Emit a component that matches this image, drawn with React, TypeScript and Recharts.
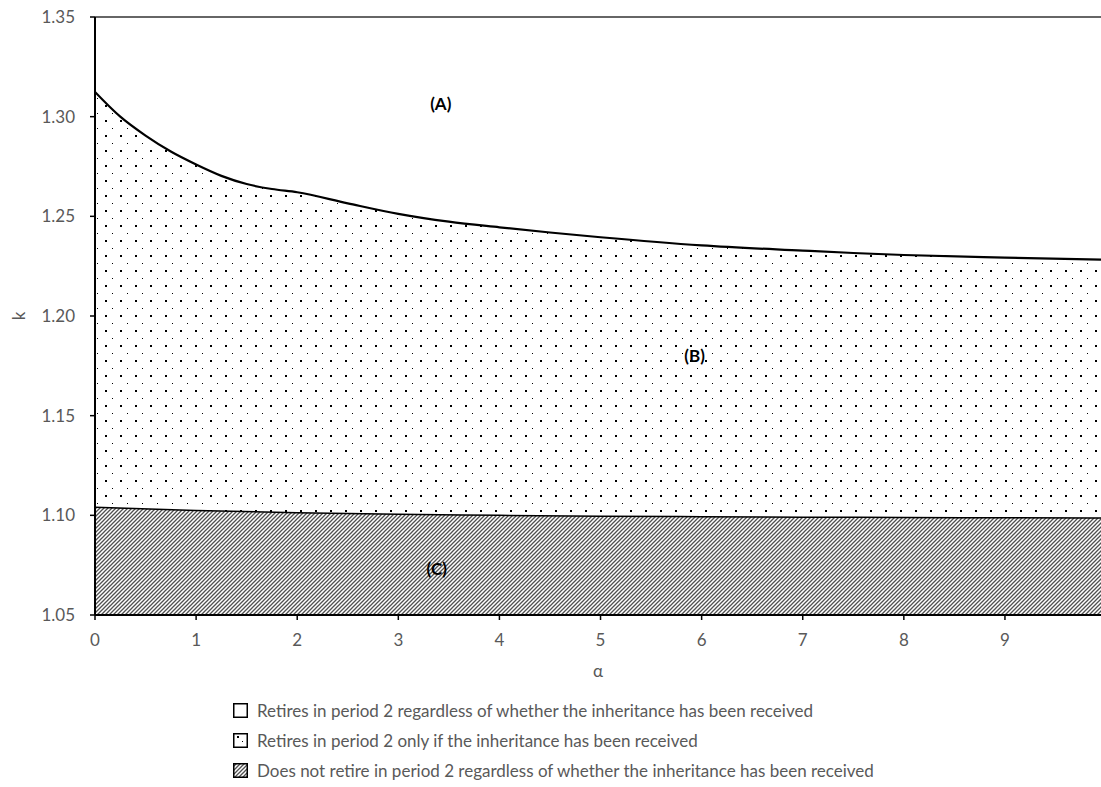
import React from 'react';
import { ComposedChart, Area, Line, XAxis, YAxis, ReferenceLine, ReferenceDot } from 'recharts';

const alphaUpper = [0, 0.25, 0.5, 0.75, 1, 1.25, 1.5, 1.75, 2, 2.5, 3, 3.5, 4, 4.5, 5, 6, 7, 7.5, 8, 9, 9.95];
const kUpper = [1.3124, 1.3, 1.2905, 1.2825, 1.276, 1.2703, 1.2662, 1.2637, 1.2621, 1.2565, 1.2512, 1.2473, 1.2445, 1.2419, 1.2395, 1.2354, 1.2328, 1.2316, 1.2306, 1.2293, 1.2283];
const alphaLower = [0, 1, 2, 3, 4, 5, 6, 7, 8, 9, 9.95];
const kLower = [1.104, 1.1024, 1.1013, 1.1005, 1.1, 1.0996, 1.0993, 1.0991, 1.0989, 1.0988, 1.0987];
const xTicks = [0, 1, 2, 3, 4, 5, 6, 7, 8, 9];
const yTicks = [1.05, 1.1, 1.15, 1.2, 1.25, 1.3, 1.35];
const regionLabels = [
  { a: 3.42, k: 1.3063, text: '(A)' },
  { a: 5.93, k: 1.1798, text: '(B)' },
  { a: 3.38, k: 1.0729, text: '(C)' },
];
const legendItems = [
  'Retires in period 2 regardless of whether the inheritance has been received',
  'Retires in period 2 only if the inheritance has been received',
  'Does not retire in period 2 regardless of whether the inheritance has been received',
];

const upperData = alphaUpper.map((a, i) => ({ a, upper: kUpper[i] }));
const lowerData = alphaLower.map((a, i) => ({ a, lower: kLower[i] }));

const FONT = 'Lato, "Open Sans", sans-serif';
const GRAY = '#595959';

const Defs = () => (
  <defs>
    <pattern id="dots" patternUnits="userSpaceOnUse" width="15" height="15">
      <rect x="0" y="0" width="15" height="15" fill="#fff" />
      <rect x="0" y="0" width="2" height="2" fill="#000" />
      <rect x="7" y="8" width="1" height="1" fill="#000" />
    </pattern>
    <pattern id="hatch" patternUnits="userSpaceOnUse" width="4" height="4">
      <rect x="0" y="0" width="4" height="4" fill="#fff" />
      <path d="M-1,1 L1,-1 M0,4 L4,0 M3,5 L5,3" stroke="#505050" strokeWidth="1.3" />
    </pattern>
  </defs>
);

const LegendIcon = ({ kind }: { kind: number }) => (
  <svg width="15" height="15" style={{ display: 'block' }}>
    <rect
      x="0.75"
      y="0.75"
      width="13.5"
      height="13.5"
      fill={kind === 2 ? 'url(#hatch)' : '#fff'}
      stroke="#000"
      strokeWidth="1.5"
    />
    {kind === 1 && <rect x="4" y="3" width="2" height="2" fill="#000" />}
    {kind === 1 && <rect x="9" y="8" width="1" height="1" fill="#000" />}
  </svg>
);

export default function App() {
  return (
    <div style={{ position: 'absolute', left: 0, top: 0, width: 1101, height: 787, background: '#fff' }}>
      <ComposedChart width={1101} height={787} margin={{ top: 17, right: 0, left: 0, bottom: 0 }}>
        <Defs />
        <XAxis
          dataKey="a"
          type="number"
          domain={[0, 9.95]}
          ticks={xTicks}
          allowDataOverflow
          height={172}
          axisLine={{ stroke: '#000', strokeWidth: 2 }}
          tickLine={{ stroke: '#000', strokeWidth: 1.5 }}
          tickSize={5}
          tickMargin={14}
          tick={{ fill: GRAY, fontSize: 17, fontFamily: FONT }}
          label={{ value: 'α', position: 'insideTop', offset: 50, fill: GRAY, fontSize: 17, fontFamily: FONT }}
        />
        <YAxis
          type="number"
          domain={[1.05, 1.35]}
          ticks={yTicks}
          allowDataOverflow
          width={95}
          axisLine={{ stroke: '#000', strokeWidth: 2 }}
          tickLine={{ stroke: '#000', strokeWidth: 1.5 }}
          tickSize={5}
          tickMargin={15}
          tickFormatter={(v: number) => v.toFixed(2)}
          tick={{ fill: GRAY, fontSize: 17, fontFamily: FONT }}
          label={{
            content: (props: any) => {
              const vb = props.viewBox || {};
              const cy = (vb.y || 0) + (vb.height || 0) / 2;
              return (
                <text
                  x={18}
                  y={cy}
                  transform={`rotate(-90, 18, ${cy})`}
                  textAnchor="middle"
                  dominantBaseline="central"
                  fill={GRAY}
                  fontSize={17}
                  fontFamily={FONT}
                >
                  k
                </text>
              );
            },
          }}
        />
        <Area
          data={upperData}
          dataKey="upper"
          type="monotone"
          baseValue={1.05}
          fill="url(#dots)"
          fillOpacity={1}
          stroke="none"
          isAnimationActive={false}
        />
        <Area
          data={lowerData}
          dataKey="lower"
          type="monotone"
          baseValue={1.05}
          fill="url(#hatch)"
          fillOpacity={1}
          stroke="none"
          isAnimationActive={false}
        />
        <Line data={upperData} dataKey="upper" type="monotone" stroke="#000" strokeWidth={2.2} dot={false} isAnimationActive={false} />
        <Line data={lowerData} dataKey="lower" type="monotone" stroke="#000" strokeWidth={1.5} dot={false} isAnimationActive={false} />
        <ReferenceLine y={1.35} stroke="#333" strokeWidth={1.6} />
        {regionLabels.map((r) => (
          <ReferenceDot
            key={r.text}
            x={r.a}
            y={r.k}
            r={0}
            fill="none"
            stroke="none"
            label={{ value: r.text, position: 'center', fill: '#000', fontSize: 17, fontWeight: 'bold', fontFamily: FONT }}
          />
        ))}
      </ComposedChart>
      <div style={{ position: 'absolute', left: 233, top: 695, fontFamily: FONT, fontSize: 17, color: GRAY }}>
        {legendItems.map((t, i) => (
          <div key={i} style={{ display: 'flex', alignItems: 'center', height: 30, whiteSpace: 'nowrap' }}>
            <LegendIcon kind={i} />
            <span style={{ marginLeft: 9 }}>{t}</span>
          </div>
        ))}
      </div>
    </div>
  );
}
